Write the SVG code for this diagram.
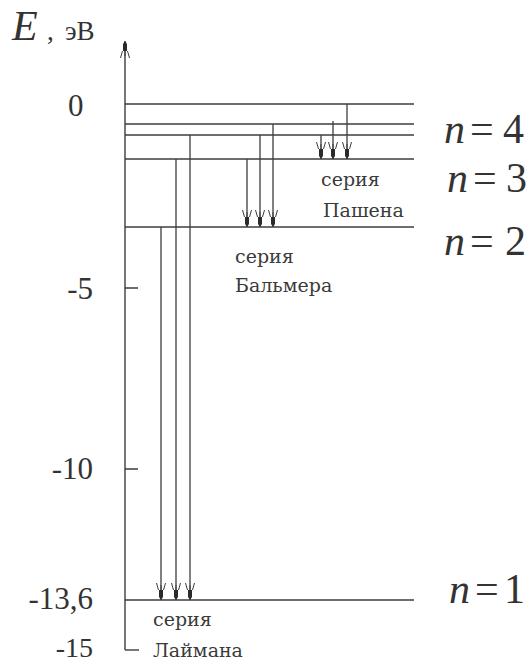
<svg xmlns="http://www.w3.org/2000/svg" width="529" height="664" viewBox="0 0 529 664">
<style>
.ln{stroke:#3d3d3d;stroke-width:1.4;fill:none}
.tr{stroke:#3d3d3d;stroke-width:1.3;fill:none;marker-end:url(#ah)}
.num{font-size:31px;fill:#333}
.math{font-size:42px;fill:#333}
.it{font-style:italic}
.lbl{font-size:19px;fill:#3a3a3a}
</style>
<defs>
<marker id="ah" markerUnits="userSpaceOnUse" orient="auto" viewBox="-20 -6 20 12" markerWidth="20" markerHeight="12" refX="0" refY="0">
<path d="M0,0 L-3,-2 L-10,-2 L-10,2 L-3,2 Z" fill="#2a2a2a"/>
<path d="M-17,-4.5 L-10,-2.5 M-17,4.5 L-10,2.5 M-15,0 L-10,0" stroke="#3d3d3d" stroke-width="1" fill="none"/>
</marker>
</defs>
<rect width="529" height="664" fill="#fff"/>

<g id="axis" font-family="'Liberation Serif', 'DejaVu Serif', serif">
<path class="ln" d="M125,650 L125,41" marker-end="url(#ah)"/>
<path class="ln" d="M125,650 L139,650"/>
<path class="ln" d="M125,288 L138,288 M125,469 L138,469"/>
<text x="12" y="40" class="math it" style="font-size:42px">E</text>
<text x="47" y="40" class="num" style="font-size:27px">,</text>
<text x="65" y="40" class="num" style="font-size:27px">эВ</text>
<text x="68" y="116" class="num">0</text>
<text x="93" y="299" class="num" text-anchor="end">-5</text>
<text x="93" y="479" class="num" text-anchor="end">-10</text>
<text x="93" y="609" class="num" text-anchor="end">-13,6</text>
<text x="93" y="657" class="num" text-anchor="end" style="font-size:28px">-15</text>
</g>

<g id="levels">
<path class="ln" d="M125,104 H414"/>
<path class="ln" d="M125,124 H414"/>
<path class="ln" d="M125,135 H414"/>
<path class="ln" d="M125,159 H414"/>
<path class="ln" d="M125,227 H414"/>
<path class="ln" d="M125,600 H414"/>
</g>

<g id="level-labels" font-family="'Liberation Serif', 'DejaVu Serif', serif">
<text class="math" y="143"><tspan x="444" class="it">n</tspan><tspan x="470">=</tspan><tspan x="503">4</tspan></text>
<text class="math" y="192"><tspan x="447" class="it">n</tspan><tspan x="473">=</tspan><tspan x="506">3</tspan></text>
<text class="math" y="255"><tspan x="444" class="it">n</tspan><tspan x="470">=</tspan><tspan x="505">2</tspan></text>
<text class="math" y="603"><tspan x="449" class="it">n</tspan><tspan x="475">=</tspan><tspan x="504">1</tspan></text>
</g>

<g id="connectors">
<g id="lyman">
<path class="tr" d="M161,227 V600"/>
<path class="tr" d="M176,159 V600"/>
<path class="tr" d="M190,135 V600"/>
</g>
<g id="balmer">
<path class="tr" d="M247,159 V227"/>
<path class="tr" d="M260,135 V227"/>
<path class="tr" d="M273,124 V227"/>
</g>
<g id="paschen">
<path class="tr" d="M321,135 V159"/>
<path class="tr" d="M333,121 V159"/>
<path class="tr" d="M347,104 V159"/>
</g>
</g>

<g id="series-labels" font-family="'DejaVu Serif', 'Liberation Serif', serif">
<g id="paschen-label">
<text x="321" y="186" class="lbl">серия</text>
<text x="323" y="217" class="lbl">Пашена</text>
</g>
<g id="balmer-label">
<text x="235" y="263" class="lbl">серия</text>
<text x="235" y="292" class="lbl">Бальмера</text>
</g>
<g id="lyman-label">
<text x="153" y="626" class="lbl">серия</text>
<text x="153" y="657" class="lbl">Лаймана</text>
</g>
</g>
</svg>
